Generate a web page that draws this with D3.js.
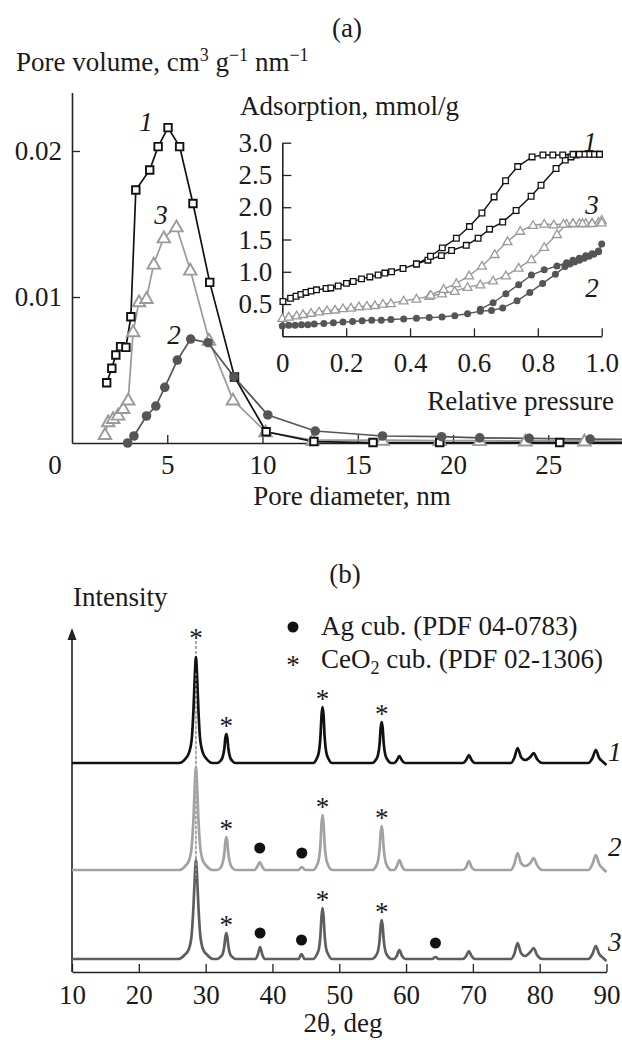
<!DOCTYPE html>
<html><head><meta charset="utf-8">
<script src="https://cdn.jsdelivr.net/npm/d3@7"></script>
<style>
body{margin:0;background:#fff}
svg{display:block}
text{font-family:"Liberation Serif","Times New Roman",serif;fill:#1a1a1a}
</style></head><body><svg id="c" width="622" height="1040"></svg>
<script>
// ---------- Panel (a): pore size distribution ----------
const psdD1 = [1.82,2.09,2.30,2.55,2.83,3.09,3.35,4.08,4.52,5.04,5.65,6.35,7.23,8.53,10.19,12.7,15.8,19.3,25.6,31];
const psdV1 = [0.00413,0.00512,0.00603,0.0066,0.00655,0.00865,0.01733,0.0187,0.0203,0.0216,0.0203,0.0164,0.0110,0.00452,0.00077,0.0001,0.00003,0.00003,0.00003,0.00003];
const psdD2 = [2.92,3.25,3.91,4.40,4.87,5.53,6.23,7.14,8.50,10.28,12.77,16.3,19.4,21.4,24.0,27.2,31];
const psdV2 = [0.0,0.00048,0.00185,0.00253,0.00381,0.00568,0.00712,0.00687,0.00454,0.00192,0.00082,0.00048,0.00043,0.00035,0.00032,0.00027,0.00024];
const psdD3 = [1.73,1.90,2.16,2.42,2.69,2.95,3.21,3.52,3.91,4.29,4.82,5.48,6.21,7.19,8.45,10.16,12.63,16.3,19.3,21.4,23.8,26.9,31];
const psdV3 = [0.00059,0.00146,0.00169,0.00192,0.00237,0.00295,0.00763,0.00968,0.00991,0.01226,0.01406,0.01481,0.01185,0.00705,0.00295,0.00077,0.0002,0.0002,0.00017,0.00017,0.00014,0.00014,0.00012];
const psdXTicks = [5,10,15,20,25];
const psdYTicks = [0.01,0.02];

// ---------- Inset: N2 isotherms ----------
const iso1AdsP = [0.002,0.026,0.043,0.058,0.074,0.09,0.107,0.137,0.152,0.175,0.201,0.222,0.248,0.274,0.3,0.321,0.342,0.378,0.42,0.456,0.498,0.53,0.576,0.613,0.649,0.69,0.732,0.779,0.81,0.857,0.886,0.904,0.92,0.993];
const iso1AdsV = [0.54,0.59,0.62,0.65,0.68,0.70,0.72,0.74,0.75,0.78,0.82,0.85,0.89,0.92,0.95,0.98,1.00,1.05,1.12,1.18,1.25,1.33,1.41,1.52,1.66,1.77,1.95,2.17,2.34,2.60,2.73,2.78,2.81,2.82];
const iso1DesP = [0.993,0.975,0.96,0.945,0.93,0.91,0.878,0.847,0.816,0.782,0.737,0.699,0.663,0.625,0.586,0.545,0.501,0.464,0.42];
const iso1DesV = [2.82,2.82,2.82,2.82,2.82,2.82,2.81,2.81,2.81,2.78,2.63,2.41,2.16,1.91,1.70,1.52,1.37,1.24,1.12];
const iso2AdsP = [0.0,0.02,0.04,0.06,0.08,0.10,0.13,0.16,0.19,0.22,0.25,0.28,0.31,0.34,0.38,0.42,0.46,0.50,0.54,0.58,0.62,0.655,0.69,0.735,0.775,0.815,0.855,0.885,0.90,0.915,0.93,0.945,0.96,0.975,0.99,1.0];
const iso2AdsV = [0.16,0.17,0.17,0.18,0.18,0.19,0.20,0.21,0.22,0.23,0.24,0.25,0.25,0.26,0.27,0.28,0.29,0.30,0.32,0.35,0.39,0.40,0.44,0.55,0.68,0.82,0.96,1.08,1.12,1.15,1.18,1.21,1.24,1.27,1.31,1.43];
const iso2DesP = [0.99,0.97,0.95,0.93,0.91,0.89,0.86,0.82,0.78,0.74,0.70,0.66,0.62];
const iso2DesV = [1.32,1.28,1.25,1.21,1.18,1.14,1.09,1.03,0.95,0.80,0.66,0.52,0.42];
const iso3AdsP = [0.0,0.02,0.045,0.065,0.09,0.115,0.14,0.165,0.19,0.215,0.24,0.265,0.29,0.315,0.34,0.38,0.42,0.46,0.50,0.54,0.58,0.62,0.66,0.70,0.74,0.78,0.82,0.86,0.89,0.91,0.93,0.95,0.97,0.99,1.0];
const iso3AdsV = [0.28,0.30,0.32,0.34,0.36,0.38,0.40,0.41,0.43,0.44,0.46,0.47,0.48,0.50,0.51,0.55,0.58,0.62,0.66,0.70,0.76,0.80,0.86,0.94,1.06,1.19,1.38,1.58,1.74,1.75,1.75,1.75,1.76,1.77,1.80];
const iso3DesP = [1.0,0.97,0.94,0.91,0.88,0.85,0.82,0.785,0.745,0.705,0.665,0.625,0.585,0.545,0.505,0.465];
const iso3DesV = [1.76,1.75,1.75,1.75,1.74,1.73,1.74,1.72,1.63,1.47,1.27,1.09,0.94,0.82,0.73,0.64];
const isoXTicks = [0,0.2,0.4,0.6,0.8,1.0];
const isoYTicks = [0.5,1.0,1.5,2.0,2.5,3.0];

// ---------- Panel (b): XRD patterns [2theta, intensity a.u.] ----------
const xrd1 = [[10,0],[26.05,0],[26.95,4],[27.55,11],[27.95,26],[28.18,53],[28.4,90],[28.55,106],[28.7,90],[28.92,53],[29.15,26],[29.55,11],[30.15,4],[31.0,0],
  [31.7,0],[32.2,2],[32.55,6],[32.8,14.5],[32.95,25],[33.1,29],[33.25,25],[33.4,14.5],[33.65,6],[34.0,2],[34.5,0],
  [46.1,0],[46.6,4],[46.95,11],[47.2,28],[47.35,48],[47.5,56],[47.65,48],[47.8,28],[48.05,11],[48.4,4],[48.9,0],
  [54.95,0],[55.45,3],[55.8,8],[56.05,20],[56.2,35],[56.35,41],[56.5,35],[56.65,20],[56.9,8],[57.25,3],[57.75,0],
  [58.2,0],[58.6,2.5],[59.0,7],[59.4,2.5],[59.9,0],[68.5,0],[69.0,3],[69.4,8],[69.8,3],[70.3,0],
  [75.7,0],[76.2,5],[76.7,15],[77.2,6],[77.8,3],[78.6,6],[79.1,10],[79.6,4],[80.4,0],
  [87.3,0],[87.9,5],[88.4,13],[88.9,5],[89.5,1],[90,-2]];
const xrd2 = [[10,0],[26.05,0],[26.95,4],[27.55,10],[27.95,26],[28.18,51],[28.4,88],[28.55,103],[28.7,88],[28.92,51],[29.15,26],[29.55,10],[30.15,4],[31.0,0],
  [31.7,0],[32.2,2],[32.55,7],[32.8,16.5],[32.95,28],[33.1,33],[33.25,28],[33.4,16.5],[33.65,7],[34.0,2],[34.5,0],
  [37.3,0],[37.7,3],[38.1,8],[38.5,3],[38.9,0],[43.9,0],[44.4,3],[44.9,0],
  [46.1,0],[46.6,4],[46.95,11],[47.2,27.5],[47.35,47],[47.5,55],[47.65,47],[47.8,27.5],[48.05,11],[48.4,4],[48.9,0],
  [54.95,0],[55.45,3],[55.8,9],[56.05,22],[56.2,37],[56.35,44],[56.5,37],[56.65,22],[56.9,9],[57.25,3],[57.75,0],
  [58.2,0],[58.6,3.5],[59.0,10],[59.4,3.5],[59.9,0],[68.5,0],[69.0,3],[69.4,9],[69.8,3],[70.3,0],
  [75.7,0],[76.2,6],[76.7,17],[77.2,7],[77.8,4],[78.6,7],[79.1,12],[79.6,5],[80.4,0],
  [87.3,0],[87.9,6],[88.4,15],[88.9,6],[89.5,1],[90,-2]];
const xrd3 = [[10,0],[25.9,0],[26.85,4],[27.5,10],[27.92,25],[28.16,50],[28.4,85],[28.55,100],[28.7,85],[28.94,50],[29.18,25],[29.6,10],[30.25,4],[31.1,0],
  [31.7,0],[32.2,2],[32.55,5],[32.8,13],[32.95,22],[33.1,26],[33.25,22],[33.4,13],[33.65,5],[34.0,2],[34.5,0],
  [37.4,0],[37.8,4],[38.15,12],[38.5,4],[38.9,0],[43.9,0],[44.35,5],[44.8,0],
  [46.1,0],[46.6,4],[46.95,10],[47.2,25.5],[47.35,43],[47.5,51],[47.65,43],[47.8,25.5],[48.05,10],[48.4,4],[48.9,0],
  [54.95,0],[55.45,3],[55.8,8],[56.05,19.5],[56.2,33],[56.35,39],[56.5,33],[56.65,19.5],[56.9,8],[57.25,3],[57.75,0],
  [58.2,0],[58.6,3],[59.0,9],[59.4,3],[59.9,0],[63.9,0],[64.4,2],[64.9,0],[68.5,0],[69.0,3],[69.4,8],[69.8,3],[70.3,0],
  [75.7,0],[76.2,5],[76.7,16],[77.2,6],[77.8,3],[78.6,7],[79.1,11],[79.6,4],[80.4,0],
  [87.3,0],[87.9,5],[88.4,13],[88.9,5],[89.5,1],[90,-2]];
const xrdOffsets = [209, 102, 13];     // vertical stacking of patterns 1, 2, 3
const xrdLabels = ["1","2","3"];
const ceo2Peaks = [[28.55,33.1,47.5,56.35],[33.1,47.5,56.35],[33.1,47.5,56.35]];
const agPeaks = [[],[38.1,44.4],[38.15,44.35,64.4]];
const xrdXTicks = [10,20,30,40,50,60,70,80,90];

// ---------- drawing ----------
const FS = 27, SUP = 18;
const svg = d3.select("#c");
function txt(x, y, s, anchor, size, italic){
  return svg.append("text").attr("x",x).attr("y",y).attr("text-anchor",anchor||"start")
    .attr("font-size",size||FS).attr("font-style",italic?"italic":null).text(s);
}
function styleAxis(g, size){
  g.attr("font-family",null).attr("font-size",null);
  g.selectAll("path.domain").attr("stroke","#222").attr("stroke-width",1.6);
  g.selectAll(".tick line").attr("stroke","#222").attr("stroke-width",1.3);
  g.selectAll(".tick text").attr("font-size",size||FS).attr("fill","#1a1a1a");
}

// titles
txt(347, 37, "(a)", "middle");
const yl = svg.append("text").attr("x",16).attr("y",71).attr("font-size",FS);
yl.append("tspan").text("Pore volume, cm");
yl.append("tspan").attr("font-size",SUP).attr("dy",-10).text("3");
yl.append("tspan").attr("dy",10).text(" g");
yl.append("tspan").attr("font-size",SUP).attr("dy",-10).text("\u22121");
yl.append("tspan").attr("dy",10).text(" nm");
yl.append("tspan").attr("font-size",SUP).attr("dy",-10).text("\u22121");

// main PSD scales/axes
const xP = d3.scaleLinear().domain([0,28.87]).range([72,622]);
const yP = d3.scaleLinear().domain([0,0.024]).range([443,92.6]);
styleAxis(svg.append("g").attr("transform","translate(0,443)")
  .call(d3.axisBottom(xP).tickValues(psdXTicks).tickSizeInner(-8).tickSizeOuter(0).tickPadding(12)));
styleAxis(svg.append("g").attr("transform","translate(72,0)")
  .call(d3.axisLeft(yP).tickValues(psdYTicks).tickFormat(d3.format(".2f")).tickSizeInner(-8).tickSizeOuter(0).tickPadding(10)));
txt(55, 474, "0", "middle");
txt(352, 505, "Pore diameter, nm", "middle");

const psdSeries = [
  {d:psdD3, v:psdV3, color:"#9a9a9a", mark:"tri"},
  {d:psdD1, v:psdV1, color:"#111", mark:"sq"},
  {d:psdD2, v:psdV2, color:"#555", mark:"dot"}
];
function drawMarks(g, pts, mark, color, big){
  if(mark==="dot"){
    g.selectAll("circle.m").data(pts).join("circle").attr("cx",d=>d[0]).attr("cy",d=>d[1])
      .attr("r",big?4.8:3.5).attr("fill",color);
  } else {
    const sym = d3.symbol().type(mark==="sq"?d3.symbolSquare:d3.symbolTriangle)
      .size(mark==="sq"?(big?56:32):(big?68:34));
    g.selectAll("path.m").data(pts).join("path").attr("class","m")
      .attr("transform",d=>`translate(${d[0]},${d[1]+(mark==="tri"?(big?1:0.6):0)})`)
      .attr("d",sym).attr("fill","#fff").attr("stroke",color).attr("stroke-width",big?1.9:1.3);
  }
}
const lineXY = d3.line();
psdSeries.forEach(s=>{
  const pts = s.d.map((x,i)=>[xP(x), yP(s.v[i])]);
  svg.append("path").attr("d",lineXY(pts)).attr("fill","none").attr("stroke",s.color).attr("stroke-width",1.7);
});
psdSeries.forEach(s=>{
  const pts = s.d.map((x,i)=>[xP(x), yP(s.v[i])]);
  drawMarks(svg.append("g"), pts, s.mark, s.color, true);
});
txt(146, 131, "1", "middle", FS, true);
txt(161, 224, "3", "middle", FS, true);
txt(174, 344, "2", "middle", FS, true);

// inset
const xI = d3.scaleLinear().domain([0,1]).range([282.3,601.7]);
const yI = d3.scaleLinear().domain([0,3]).range([336.3,142.7]);
styleAxis(svg.append("g").attr("transform","translate(0,336.3)")
  .call(d3.axisBottom(xI).tickValues(isoXTicks).tickFormat(d=>d===0?"0":d3.format(".1f")(d)).tickSizeInner(-8).tickSizeOuter(0).tickPadding(17)));
styleAxis(svg.append("g").attr("transform","translate(282.3,0)")
  .call(d3.axisLeft(yI).tickValues(isoYTicks).tickFormat(d3.format(".1f")).tickSizeInner(-9).tickSizeOuter(0).tickPadding(10)));
txt(240, 115, "Adsorption, mmol/g", "start");
txt(614, 410, "Relative pressure", "end");
const isoSeries = [
  {p:[iso3AdsP,iso3DesP], v:[iso3AdsV,iso3DesV], color:"#9a9a9a", mark:"tri"},
  {p:[iso1AdsP,iso1DesP], v:[iso1AdsV,iso1DesV], color:"#111", mark:"sq"},
  {p:[iso2AdsP,iso2DesP], v:[iso2AdsV,iso2DesV], color:"#555", mark:"dot"}
];
isoSeries.forEach(s=>{
  s.p.forEach((P,k)=>{
    const pts = P.map((x,i)=>[xI(x), yI(s.v[k][i])]);
    svg.append("path").attr("d",lineXY(pts)).attr("fill","none").attr("stroke",s.color).attr("stroke-width",1.4);
  });
});
isoSeries.forEach(s=>{
  s.p.forEach((P,k)=>{
    const pts = P.map((x,i)=>[xI(x), yI(s.v[k][i])]);
    drawMarks(svg.append("g"), pts, s.mark, s.color, false);
  });
});
txt(590, 151, "1", "middle", FS, true);
txt(592, 214, "3", "middle", FS, true);
txt(592, 297, "2", "middle", FS, true);

// ---------- Panel (b) ----------
txt(345, 583, "(b)", "middle");
txt(73, 606, "Intensity", "start");
const xX = d3.scaleLinear().domain([10,90]).range([72,606.5]);
const yX = d3.scaleLinear().domain([0,344]).range([972,628]);
styleAxis(svg.append("g").attr("transform","translate(0,972)")
  .call(d3.axisBottom(xX).tickValues(xrdXTicks).tickSizeInner(-8).tickSizeOuter(0).tickPadding(13)));
svg.append("line").attr("x1",72).attr("x2",72).attr("y1",972).attr("y2",636).attr("stroke","#222").attr("stroke-width",1.6);
svg.append("path").attr("d","M72,628 L67.5,640 L76.5,640 Z").attr("fill","#222");
txt(343, 1032, "2\u03b8, deg", "middle");

// legend
svg.append("circle").attr("cx",293).attr("cy",627).attr("r",5.5).attr("fill","#111");
txt(321, 635, "Ag cub. (PDF 04-0783)");
txt(293, 674, "*", "middle");
const lg = svg.append("text").attr("x",321).attr("y",668).attr("font-size",FS);
lg.append("tspan").text("CeO");
lg.append("tspan").attr("font-size",SUP).attr("dy",6).text("2");
lg.append("tspan").attr("dy",-6).text(" cub. (PDF 02-1306)");

const xrdColors = ["#111","#a2a2a2","#5e5e5e"];
const xrdLabelDy = [-2,-14,-8];
const xrdData = [xrd1, xrd2, xrd3];
const nearest = (data,t) => data.reduce((a,b)=>Math.abs(b[0]-t)<Math.abs(a[0]-t)?b:a);
// dashed reference line through the main CeO2 reflection
const mainT = ceo2Peaks[0][0];
svg.append("line").attr("x1",xX(mainT)).attr("x2",xX(mainT))
  .attr("y1",yX(xrdOffsets[0]+nearest(xrd1,mainT)[1])-16).attr("y2",yX(xrdOffsets[2]+80))
  .attr("stroke","#666").attr("stroke-width",1.1).attr("stroke-dasharray","3,2");
xrdData.forEach((data,k)=>{
  const ln = d3.line().x(d=>xX(d[0])).y(d=>yX(xrdOffsets[k]+d[1])).curve(d3.curveMonotoneX);
  svg.append("path").attr("d",ln(data)).attr("fill","none").attr("stroke",xrdColors[k])
    .attr("stroke-width",2.7).attr("stroke-linejoin","round");
  txt(608, yX(xrdOffsets[k])+xrdLabelDy[k], xrdLabels[k], "start", FS, true);
  const top = t => yX(xrdOffsets[k]+nearest(data,t)[1]);
  ceo2Peaks[k].forEach(t=>{
    const gap = (t===mainT)? 22 : 11;
    txt(xX(t), top(t)-gap+12, "*", "middle", FS);
  });
  agPeaks[k].forEach(t=>{
    svg.append("circle").attr("cx",xX(t)).attr("cy",top(t)-14).attr("r",5.5).attr("fill","#111");
  });
});
// dashed segment seen through the peaks
svg.append("line").attr("x1",xX(mainT)).attr("x2",xX(mainT))
  .attr("y1",yX(xrdOffsets[0]+90)).attr("y2",yX(xrdOffsets[2]+80))
  .attr("stroke","#bbb").attr("stroke-width",0.8).attr("stroke-dasharray","3,2");
</script></body></html>
